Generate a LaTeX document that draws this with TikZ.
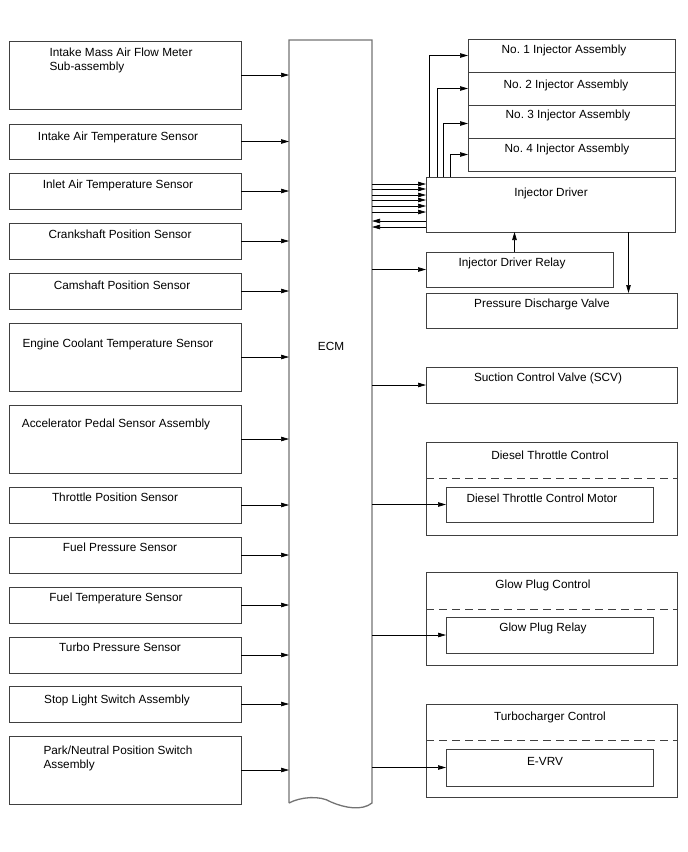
\documentclass[tikz,border=0pt]{standalone}
\usepackage{fontspec}
\setmainfont{Liberation Sans}
\frenchspacing
\usetikzlibrary{arrows.meta}

\begin{document}
\begin{tikzpicture}[x=1pt, y=-1pt, >={Triangle[length=8pt,width=4.5pt]},
      blk/.style={draw=black!75, line width=0.8pt, inner sep=0pt, outer sep=0pt, anchor=north west},
      sensor/.style={blk, minimum width=232pt},
      unit/.style={blk, minimum width=251pt},
      inner/.style={blk, minimum width=207pt},
      txt/.style={inner sep=0pt, anchor=north, align=left, font=\fontsize{11.8}{13.5}\selectfont},
      wire/.style={->, line width=0.7pt},
      sep/.style={draw=black!75, line width=0.8pt, dash pattern=on 8pt off 5pt}]
    \useasboundingbox (0,0) rectangle (688,852);
    % inputs
    \node[sensor, minimum height=68pt] (maf) at (9,41) {};
    \node[sensor, minimum height=35pt] (iat) at (9,124) {};
    \node[sensor, minimum height=36pt] (inlet) at (9,173) {};
    \node[sensor, minimum height=36pt] (ckp) at (9,223) {};
    \node[sensor, minimum height=36pt] (cmp) at (9,273) {};
    \node[sensor, minimum height=68pt] (ect) at (9,323) {};
    \node[sensor, minimum height=68pt] (app) at (9,405) {};
    \node[sensor, minimum height=36pt] (tps) at (9,487) {};
    \node[sensor, minimum height=36pt] (fps) at (9,537) {};
    \node[sensor, minimum height=36pt] (ftemp) at (9,587) {};
    \node[sensor, minimum height=36pt] (boost) at (9,637) {};
    \node[sensor, minimum height=36pt] (stop) at (9,686) {};
    \node[sensor, minimum height=68pt] (pnp) at (9,736) {};
    \node[txt] at (121,48) {Intake Mass Air Flow Meter\\Sub-assembly};
    \node[txt] at (118,132) {Intake Air Temperature Sensor};
    \node[txt] at (118,180) {Inlet Air Temperature Sensor};
    \node[txt] at (120,230) {Crankshaft Position Sensor};
    \node[txt] at (122,281) {Camshaft Position Sensor};
    \node[txt] at (118,339) {Engine Coolant Temperature Sensor};
    \node[txt] at (116,419) {Accelerator Pedal Sensor Assembly};
    \node[txt] at (115,493) {Throttle Position Sensor};
    \node[txt] at (120,543) {Fuel Pressure Sensor};
    \node[txt] at (116,593) {Fuel Temperature Sensor};
    \node[txt] at (120,643) {Turbo Pressure Sensor};
    \node[txt] at (117,695) {Stop Light Switch Assembly};
    \node[txt] at (118,746) {Park/Neutral Position Switch\\Assembly};
    % ECM
    \node[inner sep=0pt, outer sep=0pt, anchor=north west, minimum width=83pt, minimum height=763pt] (ecm) at (289,40) {};
    \draw[draw=black!55, line width=1.3pt] (ecm.south west) -- (ecm.north west) -- (ecm.north east) -- (ecm.south east)
      .. controls (362,811) and (345,808) .. (331,802) .. controls (320,795) and (300,797) .. (ecm.south west);
    \node[txt] (ecmlabel) at (331,342) {ECM};
    % outputs
    \node[inner, minimum height=33pt] (inj1) at (468,39) {};
    \node[inner, minimum height=33pt] (inj2) at (468,72) {};
    \node[inner, minimum height=33pt] (inj3) at (468,105) {};
    \node[inner, minimum height=33pt] (inj4) at (468,138) {};
    \node[blk, minimum width=249pt, minimum height=55pt] (drv) at (426,177) {};
    \node[blk, minimum width=187pt, minimum height=35pt] (relay) at (426,252) {};
    \node[unit, minimum height=35pt] (pdv) at (426,293) {};
    \node[unit, minimum height=36pt] (scv) at (426,367) {};
    \node[unit, minimum height=93pt] (dtc) at (426,442) {};
    \node[inner, minimum height=35pt] (motor) at (446,487) {};
    \node[unit, minimum height=93pt] (gpc) at (426,572) {};
    \node[inner, minimum height=36pt] (gpr) at (446,617) {};
    \node[unit, minimum height=93pt] (tc) at (426,704) {};
    \node[inner, minimum height=37pt] (evrv) at (446,749) {};
    \draw[sep] (dtc.west |- 0,478) -- (dtc.east |- 0,478);
    \draw[sep] (gpc.west |- 0,609) -- (gpc.east |- 0,609);
    \draw[sep] (tc.west |- 0,740) -- (tc.east |- 0,740);
    \node[txt] at (564,45) {No. 1 Injector Assembly};
    \node[txt] at (566,80) {No. 2 Injector Assembly};
    \node[txt] at (568,110) {No. 3 Injector Assembly};
    \node[txt] at (567,144) {No. 4 Injector Assembly};
    \node[txt] at (551,188) {Injector Driver};
    \node[txt] at (512,258) {Injector Driver Relay};
    \node[txt] at (542,299) {Pressure Discharge Valve};
    \node[txt] at (548,373) {Suction Control Valve (SCV)};
    \node[txt] at (550,451) {Diesel Throttle Control};
    \node[txt] at (542,494) {Diesel Throttle Control Motor};
    \node[txt] at (543,580) {Glow Plug Control};
    \node[txt] at (543,623) {Glow Plug Relay};
    \node[txt] at (550,712) {Turbocharger Control};
    \node[txt] at (545,757) {E-VRV};
    % input wires
    \foreach \s in {maf,iat,inlet,ckp,cmp,ect,app,tps,fps,ftemp,boost,stop,pnp}
      \draw[wire] (\s.east) -- (\s.east -| ecm.west);
    % injector driver
    \foreach \y in {184,189,195,200,206,212}
      \draw[wire] (ecm.east |- 0,\y) -- (drv.west |- 0,\y);
    \foreach \y in {221,227}
      \draw[wire] (drv.west |- 0,\y) -- (ecm.east |- 0,\y);
    \draw[wire] ([xshift=3pt]drv.north west) |- (inj1.west);
    \draw[wire] ([xshift=11pt]drv.north west) |- (inj2.west);
    \draw[wire] ([xshift=17pt]drv.north west) |- ([yshift=-2pt]inj3.west);
    \draw[wire] ([xshift=24pt]drv.north west) |- (inj4.west);
    \draw[wire] ([xshift=-5pt]relay.north) -- ([xshift=-5pt]relay.north |- drv.south);
    \draw[wire] ([xshift=78pt]drv.south) -- ([xshift=78pt]drv.south |- pdv.north);
    % other outputs
    \draw[wire] (ecm.east |- relay.west) -- (relay.west);
    \draw[wire] (ecm.east |- scv.west) -- (scv.west);
    \draw[wire] (ecm.east |- motor.west) -- (motor.west);
    \draw[wire] (ecm.east |- gpr.west) -- (gpr.west);
    \draw[wire] (ecm.east |- evrv.west) -- (evrv.west);
  \end{tikzpicture}
\end{document}
